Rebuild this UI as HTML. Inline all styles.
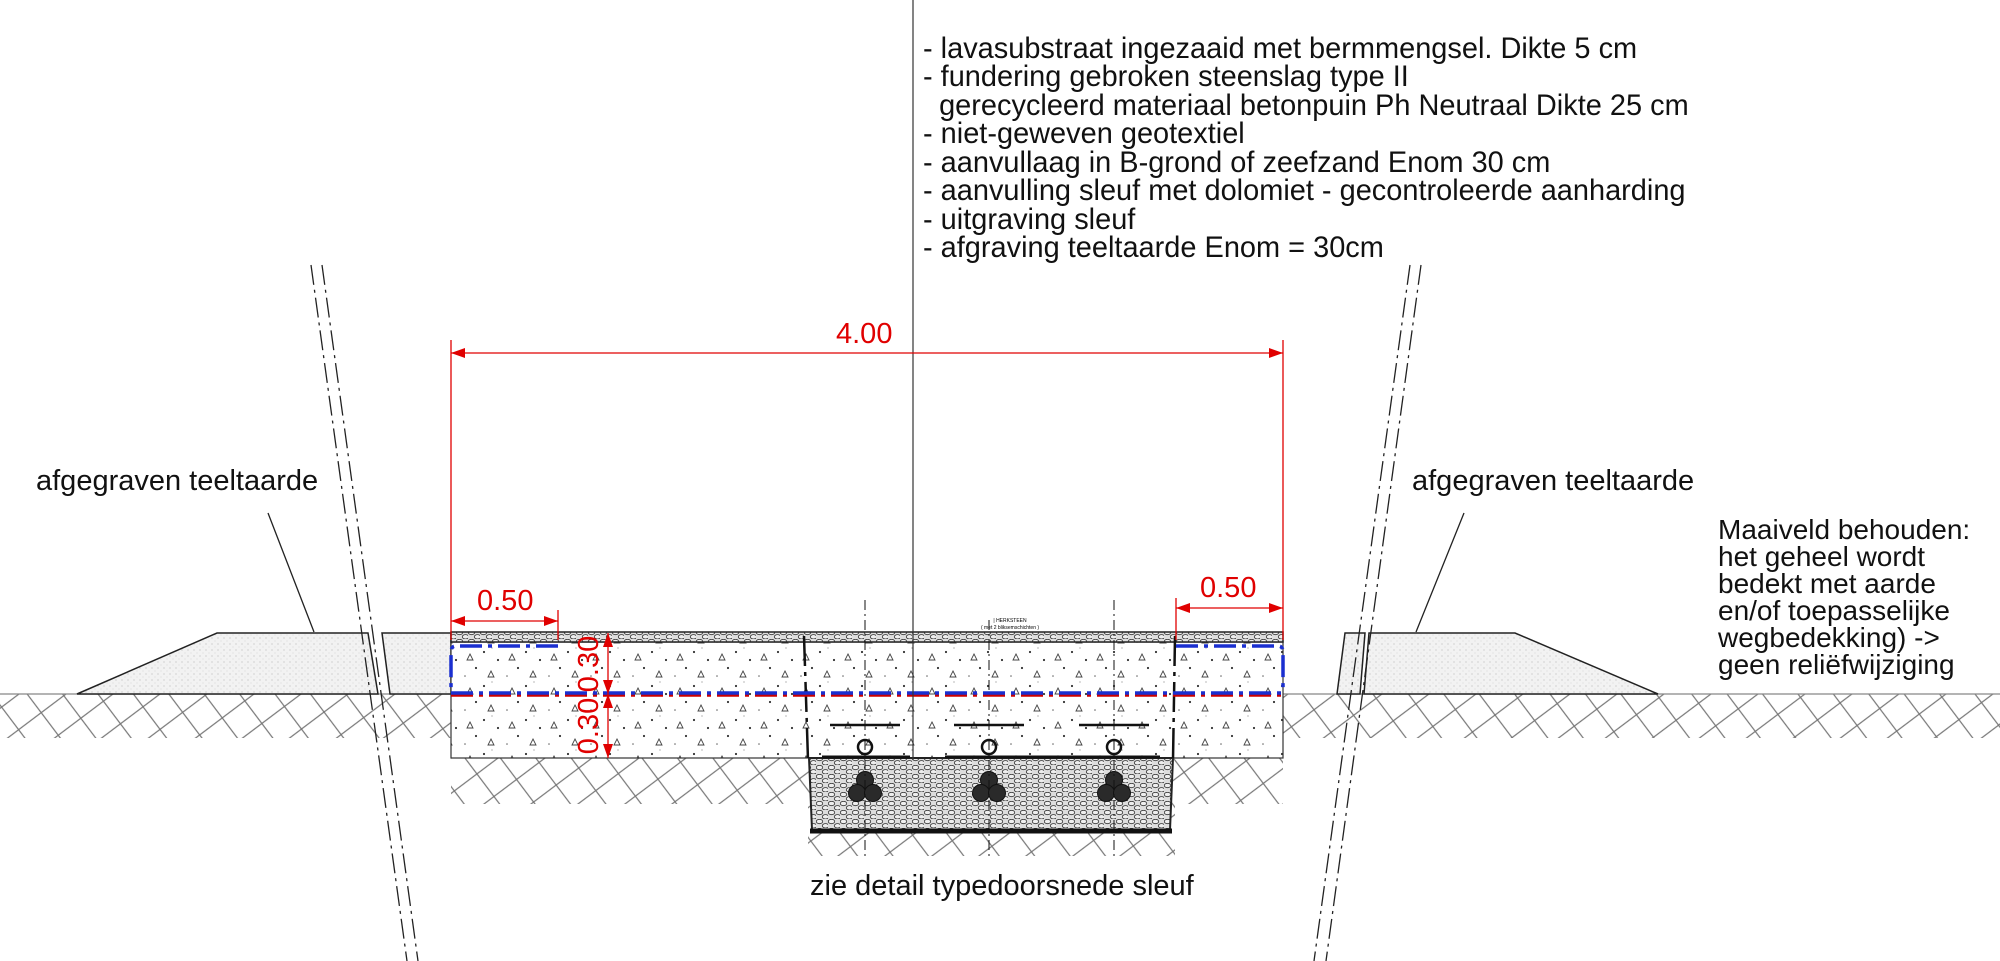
<!DOCTYPE html>
<html><head><meta charset="utf-8"><style>
html,body{margin:0;padding:0;background:#fff;width:2000px;height:961px;overflow:hidden}
svg text{font-family:"Liberation Sans",sans-serif}
</style></head><body>
<svg width="2000" height="961" viewBox="0 0 2000 961" xmlns="http://www.w3.org/2000/svg">
<defs>
<pattern id="hatch" width="40" height="40" patternUnits="userSpaceOnUse" patternTransform="rotate(8)">
<path d="M0 0L40 40M40 0L0 40" stroke="#777" stroke-width="1.2"/>
</pattern>
<pattern id="sand" width="6" height="6" patternUnits="userSpaceOnUse">
<rect width="6" height="6" fill="#f2f2f2"/><circle cx="2" cy="2" r="0.6" fill="#bbb"/><circle cx="5" cy="5" r="0.5" fill="#ccc"/>
</pattern>
<pattern id="conc" width="42" height="34" patternUnits="userSpaceOnUse">
<rect width="42" height="34" fill="#fff"/>
<path d="M8 8l3 6h-6z M29 25l3 6h-6z" fill="none" stroke="#444" stroke-width="0.9"/>
<circle cx="22" cy="6" r="1.1" fill="#333"/><circle cx="36" cy="14" r="1.1" fill="#333"/><circle cx="14" cy="22" r="1.1" fill="#333"/><circle cx="3" cy="30" r="0.8" fill="#666"/><circle cx="30" cy="2" r="0.6" fill="#888"/>
</pattern>
<pattern id="grav" width="12" height="9" patternUnits="userSpaceOnUse">
<rect width="12" height="9" fill="#ddd"/>
<ellipse cx="3.5" cy="2.5" rx="3.2" ry="2.2" fill="#eee" stroke="#333" stroke-width="0.8"/>
<ellipse cx="9.5" cy="6.8" rx="3.2" ry="2.2" fill="#eee" stroke="#333" stroke-width="0.8"/>
</pattern>
</defs>

<!-- hatch ground -->
<rect x="0" y="694" width="2000" height="44" fill="url(#hatch)"/>
<rect x="451" y="738" width="832" height="66" fill="url(#hatch)"/>
<rect x="808" y="804" width="367" height="52" fill="url(#hatch)"/>
<line x1="0" y1="694" x2="2000" y2="694" stroke="#888" stroke-width="1.2"/>

<!-- mounds -->
<polygon points="77,694 217,633 368,633 378,694" fill="url(#sand)" stroke="#222" stroke-width="1.5"/>
<polygon points="382,633 451,633 451,694 390,694" fill="url(#sand)" stroke="#222" stroke-width="1.5"/>
<polygon points="1345,633 1365,633 1360,694 1337,694" fill="url(#sand)" stroke="#222" stroke-width="1.5"/>
<polygon points="1369,633 1515,633 1658,694 1364,694" fill="url(#sand)" stroke="#222" stroke-width="1.5"/>

<!-- pavement body -->
<rect x="451" y="642" width="832" height="116" fill="url(#conc)" stroke="#333" stroke-width="1.2"/>
<rect x="451" y="632" width="832" height="10" fill="url(#grav)" stroke="#222" stroke-width="1.5"/>
<!-- trench -->
<polygon points="809,758 1173,758 1170,830 812,830" fill="url(#grav)" stroke="#222" stroke-width="2"/>
<line x1="810" y1="831" x2="1172" y2="831" stroke="#111" stroke-width="5"/>
<line x1="822" y1="757" x2="910" y2="757" stroke="#111" stroke-width="3"/>
<line x1="945" y1="757" x2="1160" y2="757" stroke="#111" stroke-width="3"/>
<line x1="804" y1="636" x2="808" y2="760" stroke="#111" stroke-width="2.5" stroke-dasharray="30,6,4,6"/>
<line x1="1175" y1="636" x2="1173" y2="760" stroke="#111" stroke-width="2.5" stroke-dasharray="30,6,4,6"/>
<!-- cables -->
<g stroke="#111" fill="none">
<g transform="translate(865,0)"><line x1="-35" y1="725" x2="35" y2="725" stroke-width="2.5"/><circle cx="0" cy="747" r="7" stroke-width="2.5"/><circle cx="0" cy="780" r="8.5" fill="#2a2a2a"/><circle cx="-8" cy="793" r="8.5" fill="#2a2a2a"/><circle cx="8" cy="793" r="8.5" fill="#2a2a2a"/><line x1="0" y1="600" x2="0" y2="860" stroke-width="1" stroke-dasharray="10,4,2,4"/></g>
<g transform="translate(989,0)"><line x1="-35" y1="725" x2="35" y2="725" stroke-width="2.5"/><circle cx="0" cy="747" r="7" stroke-width="2.5"/><circle cx="0" cy="780" r="8.5" fill="#2a2a2a"/><circle cx="-8" cy="793" r="8.5" fill="#2a2a2a"/><circle cx="8" cy="793" r="8.5" fill="#2a2a2a"/><line x1="0" y1="620" x2="0" y2="860" stroke-width="1" stroke-dasharray="10,4,2,4"/></g>
<g transform="translate(1114,0)"><line x1="-35" y1="725" x2="35" y2="725" stroke-width="2.5"/><circle cx="0" cy="747" r="7" stroke-width="2.5"/><circle cx="0" cy="780" r="8.5" fill="#2a2a2a"/><circle cx="-8" cy="793" r="8.5" fill="#2a2a2a"/><circle cx="8" cy="793" r="8.5" fill="#2a2a2a"/><line x1="0" y1="600" x2="0" y2="860" stroke-width="1" stroke-dasharray="10,4,2,4"/></g>
</g>
<text x="1010" y="622" font-size="5" text-anchor="middle">| HERKSTEEN</text>
<text x="1010" y="629" font-size="5" text-anchor="middle">( met 2 bliksemschichten )</text>

<!-- blue/red dashed lines -->
<g fill="none" stroke-width="3.5" stroke-dasharray="22,6,4,6">
<line x1="451" y1="695" x2="1283" y2="695" stroke="#c00"/>
<line x1="451" y1="693" x2="1283" y2="693" stroke="#1a2fd0"/>
<path d="M558 646H456Q451 646 451 652V690" stroke="#1a2fd0"/>
<path d="M1176 646H1278Q1283 646 1283 652V690" stroke="#1a2fd0"/>
</g>

<!-- center vertical line -->
<line x1="913" y1="0" x2="913" y2="760" stroke="#333" stroke-width="1.2"/>

<!-- break lines -->
<g stroke="#222" stroke-width="1.3" fill="none" stroke-dasharray="20,5,3,5">
<line x1="311" y1="265" x2="407" y2="961"/><line x1="322" y1="265" x2="418" y2="961"/>
<line x1="1410" y1="265" x2="1314" y2="961"/><line x1="1421" y1="265" x2="1326" y2="961"/>
</g>

<!-- leaders -->
<line x1="268" y1="513" x2="314" y2="632" stroke="#222" stroke-width="1.3"/>
<line x1="1464" y1="513" x2="1416" y2="632" stroke="#222" stroke-width="1.3"/>

<!-- red dimensions -->
<g stroke="#e00000" fill="#e00000" stroke-width="1.3">
<line x1="451" y1="340" x2="451" y2="640"/><line x1="1283" y1="340" x2="1283" y2="640"/>
<line x1="451" y1="353" x2="1283" y2="353"/>
<path d="M451 353l14-5v10z M1283 353l-14-5v10z" stroke="none"/>
<line x1="451" y1="621" x2="558" y2="621"/><line x1="558" y1="610" x2="558" y2="640"/>
<path d="M451 621l14-5v10z M558 621l-14-5v10z" stroke="none"/>
<line x1="1176" y1="608" x2="1283" y2="608"/><line x1="1176" y1="598" x2="1176" y2="640"/>
<path d="M1176 608l14-5v10z M1283 608l-14-5v10z" stroke="none"/>
<line x1="608" y1="633" x2="608" y2="758"/>
<path d="M608 633l-5 14h10z M608 694l-5-14h10z M608 694l-5 14h10z M608 758l-5-14h10z" stroke="none"/>
</g>
<g fill="#e00000" font-size="29">
<text x="836" y="343">4.00</text>
<text x="477" y="610">0.50</text>
<text x="1200" y="597">0.50</text>
<text transform="translate(598,664) rotate(-90)" text-anchor="middle">0.30</text>
<text transform="translate(598,726) rotate(-90)" text-anchor="middle">0.30</text>
</g>

<!-- notes -->
<g font-size="30" fill="#111" transform="translate(923,0) scale(0.965,1)">
<text x="0" y="58">- lavasubstraat ingezaaid met bermmengsel. Dikte 5 cm</text>
<text x="0" y="86">- fundering gebroken steenslag type II</text>
<text x="0" y="115">&#160;&#160;gerecycleerd materiaal betonpuin  Ph Neutraal  Dikte 25 cm</text>
<text x="0" y="143">- niet-geweven geotextiel</text>
<text x="0" y="172">- aanvullaag in B-grond of zeefzand Enom 30 cm</text>
<text x="0" y="200">- aanvulling sleuf met dolomiet - gecontroleerde aanharding</text>
<text x="0" y="229">- uitgraving sleuf</text>
<text x="0" y="257">- afgraving teeltaarde Enom = 30cm</text>
</g>
<g font-size="29" fill="#111">
<text x="36" y="490">afgegraven teeltaarde</text>
<text x="1412" y="490">afgegraven teeltaarde</text>
</g>
<text x="810" y="895" font-size="29" fill="#111">zie detail typedoorsnede sleuf</text>
<g font-size="28" fill="#111">
<text x="1718" y="539">Maaiveld behouden:</text>
<text x="1718" y="566">het geheel wordt</text>
<text x="1718" y="593">bedekt met aarde</text>
<text x="1718" y="620">en/of toepasselijke</text>
<text x="1718" y="647">wegbedekking) -&gt;</text>
<text x="1718" y="674">geen reliëfwijziging</text>
</g>
</svg>
</body></html>
